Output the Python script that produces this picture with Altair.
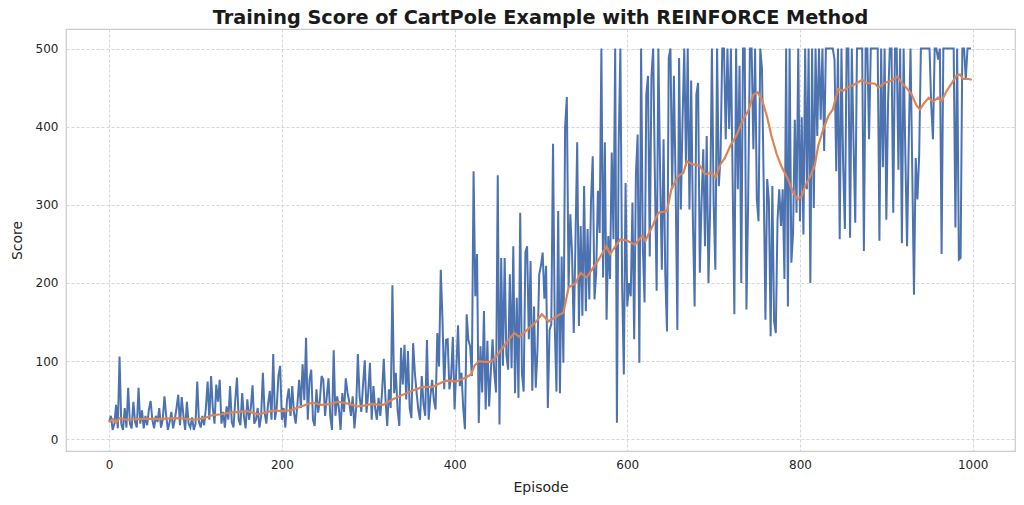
import altair as alt
import pandas as pd

scores = [
    22, 30, 12, 20, 44, 14, 106, 20, 12, 40, 15, 66, 20, 14, 48, 22, 15, 66, 20, 37, 14, 30, 18, 38, 49,
    25, 14, 30, 22, 40, 15, 25, 55, 30, 12, 22, 35, 14, 25, 40, 57, 18, 54, 30, 12, 48, 20, 15, 28, 12,
    20, 74, 22, 15, 30, 18, 40, 74, 25, 81, 40, 20, 70, 48, 76, 20, 35, 15, 42, 25, 68, 22, 15, 50, 79,
    25, 18, 59, 30, 14, 51, 25, 40, 69, 20, 25, 40, 15, 30, 85, 34, 20, 45, 62, 25, 109, 25, 40, 81, 94,
    25, 40, 15, 51, 65, 30, 68, 34, 20, 45, 76, 40, 96, 50, 130, 25, 76, 89, 25, 17, 64, 34, 50, 81, 76,
    30, 55, 78, 30, 12, 114, 30, 55, 40, 12, 59, 35, 78, 60, 48, 30, 55, 14, 40, 109, 55, 35, 70, 101, 34,
    60, 98, 25, 68, 40, 25, 53, 30, 60, 103, 51, 17, 64, 40, 197, 59, 85, 38, 17, 117, 70, 121, 51, 113, 40,
    27, 123, 85, 60, 38, 25, 81, 45, 30, 127, 25, 55, 76, 50, 38, 136, 93, 217, 153, 64, 127, 128, 64, 80, 131,
    38, 90, 146, 68, 85, 40, 13, 160, 127, 119, 81, 343, 183, 237, 21, 119, 60, 164, 38, 126, 42, 87, 128, 85, 60,
    338, 19, 232, 94, 232, 108, 89, 211, 91, 247, 59, 181, 53, 290, 85, 61, 239, 247, 128, 228, 62, 170, 66, 115, 211,
    222, 239, 180, 222, 40, 140, 147, 378, 145, 61, 292, 59, 234, 98, 400, 438, 194, 288, 239, 136, 254, 380, 145, 273, 158,
    324, 164, 269, 179, 305, 362, 179, 213, 318, 264, 500, 207, 380, 153, 260, 205, 367, 256, 500, 21, 375, 500, 200, 83, 328,
    170, 200, 183, 303, 128, 339, 390, 98, 500, 247, 175, 441, 465, 234, 465, 500, 333, 190, 500, 341, 217, 384, 211, 138, 488,
    500, 320, 465, 324, 140, 488, 294, 409, 500, 350, 500, 294, 459, 279, 170, 441, 456, 213, 303, 371, 247, 388, 200, 298, 500,
    303, 217, 500, 324, 362, 500, 500, 384, 500, 397, 500, 333, 160, 500, 320, 478, 200, 500, 500, 166, 307, 500, 500, 371, 500,
    307, 279, 500, 474, 324, 153, 333, 305, 132, 324, 151, 136, 281, 320, 273, 320, 205, 500, 170, 500, 226, 264, 409, 290, 500,
    279, 412, 262, 500, 320, 500, 200, 500, 296, 500, 388, 500, 409, 500, 369, 500, 500, 500, 500, 500, 486, 343, 500, 256, 500,
    350, 269, 500, 500, 258, 500, 380, 277, 500, 500, 500, 500, 241, 500, 500, 384, 500, 500, 500, 500, 500, 254, 500, 348, 500,
    281, 431, 500, 500, 290, 500, 500, 345, 500, 251, 500, 365, 247, 384, 500, 345, 185, 360, 307, 362, 500, 500, 500, 500, 500,
    500, 427, 384, 500, 500, 486, 500, 237, 500, 500, 500, 500, 500, 500, 500, 271, 500, 230, 232, 500, 500, 461, 500, 500, 500,
]
episodes = list(range(0, 1000, 2))

# Moving-average curve
avg_episodes = [
    0, 4, 8, 12, 20, 40, 60, 80, 100, 110, 120, 130, 140, 150, 160, 172, 180, 190, 200, 210,
    222, 230, 236, 245, 255, 265, 275, 288, 295, 303, 317, 328, 340, 351, 363, 375, 380, 390, 402, 413,
    419, 423, 428, 434, 441, 447, 457, 469, 475, 484, 494, 501, 509, 519, 526, 532, 540, 546, 553, 559,
    567, 576, 580, 592, 600, 609, 617, 621, 630, 636, 646, 651, 659, 665, 669, 675, 684, 690, 698, 702,
    708, 713, 719, 727, 734, 740, 746, 751, 756, 762, 767, 773, 779, 786, 792, 797, 802, 806, 812, 817,
    821, 827, 833, 838, 844, 850, 855, 863, 872, 877, 887, 891, 898, 906, 913, 918, 923, 929, 935, 939,
    943, 949, 954, 960, 964, 970, 976, 981, 985, 989, 995, 999,
]
avg_scores = [
    22, 26, 21, 27, 25, 26, 26, 27, 25, 27, 31, 32, 34, 35, 36, 32, 34, 37, 36, 37,
    42, 45, 47, 44, 45, 48, 46, 42, 43, 45, 44, 51, 57, 62, 67, 67, 70, 75, 74, 79,
    83, 94, 100, 99, 99, 104, 119, 136, 131, 140, 150, 160, 151, 158, 162, 194, 200, 213, 207, 217,
    230, 247, 237, 256, 254, 249, 260, 254, 275, 290, 292, 320, 337, 341, 356, 352, 350, 339, 341, 335,
    352, 360, 375, 390, 409, 420, 441, 444, 435, 412, 388, 365, 348, 333, 316, 307, 311, 324, 337, 350,
    375, 397, 414, 422, 448, 446, 450, 454, 460, 456, 455, 450, 456, 459, 464, 456, 450, 442, 427, 422,
    429, 437, 432, 437, 433, 446, 456, 465, 467, 461, 461, 460,
]

x_ticks = [0, 200, 400, 600, 800, 1000]
y_ticks = [0, 100, 200, 300, 400, 500]

raw = pd.DataFrame({"episode": episodes, "score": scores})
avg = pd.DataFrame({"episode": avg_episodes, "score": avg_scores})

FONT = "DejaVu Sans"

x_enc = alt.X(
    "episode:Q",
    scale=alt.Scale(domain=[-50, 1049], nice=False, zero=False),
    axis=alt.Axis(values=x_ticks, title="Episode", format="d"),
)
y_enc = alt.Y(
    "score:Q",
    scale=alt.Scale(domain=[-15, 525], nice=False, zero=False),
    axis=alt.Axis(values=y_ticks, title="Score", format="d"),
)

blue = alt.Chart(raw).mark_line(color="#4c72b0", strokeWidth=2, strokeJoin="miter").encode(
    x=x_enc, y=y_enc
)
orange = alt.Chart(avg).mark_line(color="#dd8452", strokeWidth=2.2).encode(
    x="episode:Q", y="score:Q"
)

chart = (
    alt.layer(blue, orange)
    .properties(
        width=949,
        height=422,
        padding={"left": 58, "top": 21, "right": 1, "bottom": 46},
        autosize=alt.AutoSizeParams(type="none"),
        title=alt.TitleParams(
            text="Training Score of CartPole Example with REINFORCE Method",
            font=FONT,
            fontSize=19.3,
            fontWeight="bold",
            color="#1a1a1a",
            anchor="middle",
            offset=1,
        ),
    )
    .configure_view(stroke="#cccccc", strokeWidth=1.25)
    .configure_axis(
        labelFont=FONT,
        titleFont=FONT,
        labelFontSize=12,
        titleFontSize=14,
        titleFontWeight="normal",
        labelColor="#262626",
        titleColor="#262626",
        domain=False,
        ticks=False,
        grid=True,
        gridColor="#cccccc",
        gridDash=[3, 2],
        gridWidth=0.8,
        labelPadding=8,
    )
    .configure_axisX(titlePadding=10)
    .configure_axisY(titlePadding=11)
)

chart.save("out.html", embed_options={"renderer": "svg", "actions": False})
